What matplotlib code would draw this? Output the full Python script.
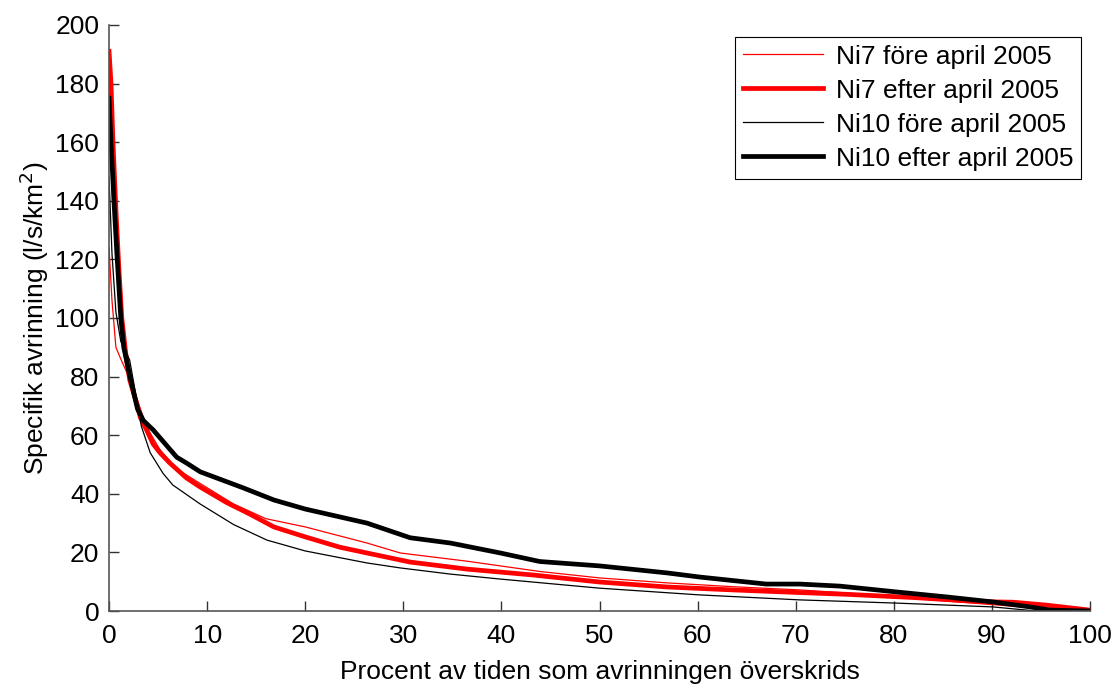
import matplotlib
matplotlib.use('Agg')
import matplotlib.pyplot as plt

# Flow duration curves
ni7_fore_x = [0, 0.3, 0.7, 1.2, 2.0, 2.8, 3.8, 5.2, 6.9, 9.3, 12.7, 16.0, 20.0, 26.3,
              29.7, 34.8, 36.5, 43.9, 50.0, 56.9, 63.6, 70.4, 75.0, 80.0, 85.0, 90.0, 95.0, 100]
ni7_fore_y = [124, 106, 90, 86, 80, 73, 63, 55, 48.5, 43.5, 36.5, 31.5, 28.7, 23.2,
              19.8, 17.7, 17.0, 13.5, 11.3, 9.6, 8.3, 7.2, 6.2, 4.8, 3.5, 2.2, 0.9, 0.2]

ni7_efter_x = [0, 0.2, 0.4, 0.7, 1.0, 1.3, 1.7, 2.1, 2.8, 3.2, 3.8, 4.5, 5.2, 6.2, 7.9, 9.3,
               12.0, 14.4, 16.8, 20.0, 23.5, 26.3, 30.7, 36.5, 43.2, 50.0, 56.9, 63.6,
               70.4, 75.2, 82.0, 88.8, 92.2, 95.6, 100]
ni7_efter_y = [191, 180, 160, 137, 117, 100, 88, 79, 71, 66, 62, 57, 54, 50.5, 45.4, 42.3,
               37.0, 33.0, 28.7, 25.3, 21.8, 19.8, 16.7, 14.3, 12.3, 9.9, 8.2, 7.2,
               6.3, 5.7, 4.6, 3.2, 3.0, 2.0, 0.3]

ni10_fore_x = [0, 0.3, 0.7, 1.2, 2.1, 2.7, 3.3, 4.2, 5.5, 6.5, 9.3, 12.7, 16.1, 20.0,
               26.3, 29.7, 34.8, 39.9, 50.0, 60.2, 70.4, 80.3, 90.1, 93.9, 100]
ni10_fore_y = [148, 122, 102, 92, 85.7, 74.4, 63, 54, 47, 43, 36.5, 29.5, 24.2, 20.5,
               16.4, 14.7, 12.6, 10.9, 7.8, 5.5, 3.8, 2.7, 1.4, 0.2, 0]

ni10_efter_x = [0, 0.2, 0.5, 0.8, 1.2, 1.5, 2.0, 2.9, 3.5, 4.5, 6.9, 7.9, 9.3, 11.3, 13.7,
                16.8, 20.0, 26.3, 30.7, 34.8, 39.9, 43.9, 50.0, 56.9, 60.2, 67.0, 70.4,
                74.5, 80.3, 85.4, 90.1, 93.9, 96.0, 100]
ni10_efter_y = [175, 160, 140, 122, 100, 90, 82, 69, 65, 61.8, 52.5, 50.5, 47.5, 45.0, 42,
                37.9, 34.8, 30, 25, 23.2, 19.8, 16.9, 15.4, 13, 11.6, 9.2, 9.2,
                8.5, 6.5, 4.8, 3.1, 1.4, 0.3, 0]

labels = ['Ni7 före april 2005', 'Ni7 efter april 2005',
          'Ni10 före april 2005', 'Ni10 efter april 2005']

plt.rcParams['font.family'] = ['Liberation Sans', 'DejaVu Sans']

fig = plt.figure(figsize=(11.16, 6.86), dpi=100)
ax = fig.add_axes([0.0977, 0.1093, 0.879, 0.8543])

ax.plot(ni7_fore_x, ni7_fore_y, color='red', lw=0.9, label=labels[0])
ax.plot(ni7_efter_x, ni7_efter_y, color='red', lw=3.4, label=labels[1])
ax.plot(ni10_fore_x, ni10_fore_y, color='black', lw=0.9, label=labels[2])
ax.plot(ni10_efter_x, ni10_efter_y, color='black', lw=3.4, label=labels[3])

ax.set_xlim(0, 100)
ax.set_ylim(0, 200)
ax.set_xticks(range(0, 101, 10))
ax.set_yticks(range(0, 201, 20))
ax.spines['top'].set_visible(False)
ax.spines['right'].set_visible(False)
for s in ['left', 'bottom']:
    ax.spines[s].set_color('#555555')
    ax.spines[s].set_linewidth(1.2)
ax.tick_params(direction='in', length=7, width=1, color='#333333',
               labelsize=19, pad=7)
ax.tick_params(axis='x', pad=9)

ax.set_xlabel('Procent av tiden som avrinningen överskrids', fontsize=19, labelpad=9)
ax.set_ylabel('Specifik avrinning (l/s/km$^2$)', fontsize=19, labelpad=3)

leg = ax.legend(loc='upper right', bbox_to_anchor=(0.991, 0.98), fontsize=19,
                frameon=True, fancybox=False, edgecolor='black', framealpha=1,
                handlelength=3.0, handletextpad=0.5, labelspacing=0.38,
                borderpad=0.3, borderaxespad=0)
leg.get_frame().set_linewidth(0.8)

fig.savefig('out.png', dpi=100)
